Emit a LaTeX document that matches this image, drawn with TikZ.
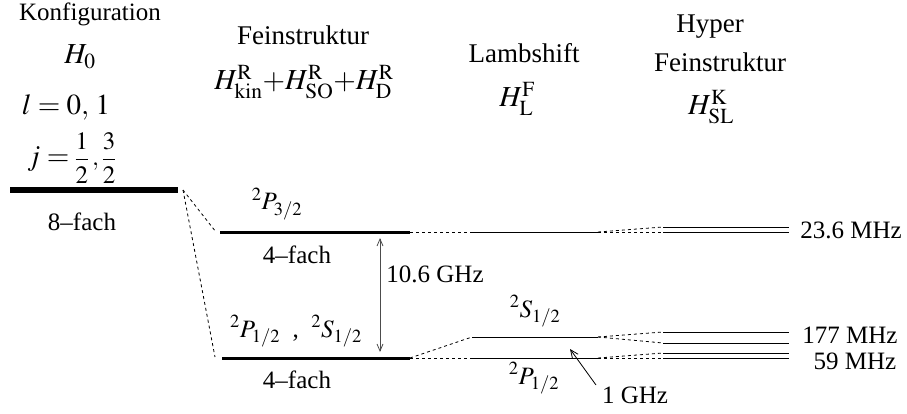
\documentclass[tikz,border=0pt]{standalone}
\usepackage{mathptmx}
\usepackage{fontspec}
\setmainfont{Liberation Serif}
\usetikzlibrary{arrows.meta,positioning}
\tikzset{txt/.style={inner sep=0pt,anchor=base,font=\fontsize{25}{30}\selectfont},
  head/.style={inner sep=0pt,anchor=base,font=\fontsize{27}{32}\selectfont},
  hmath/.style={inner sep=0pt,anchor=base,font=\fontsize{29}{34}\selectfont},
  lvlthick/.style={line width=3pt},
  lvlthin/.style={line width=1pt},
  split/.style={dash pattern=on 3pt off 3pt,line width=0.8pt},
  gap/.style={{Straight Barb[length=7pt,width=6pt]}-{Straight Barb[length=7pt,width=6pt]},draw=black!70,line width=0.8pt},
  pointer/.style={-{Straight Barb[length=8pt,width=7pt]},line width=0.8pt}}

\begin{document}
\begin{tikzpicture}[x=1pt,y=-1pt]
\useasboundingbox (0,0) rectangle (907,414);
% Konfiguration
\node[txt] (konf) at (90,21) {Konfiguration};
\node[hmath] (hnull) at (80,64) {$H_0$};
\node[hmath] (lval) at (66,115) {$l=0,\,1$};
\node[hmath] (jval) at (72,166) {$j=$\,{\fontsize{25}{30}\selectfont$\displaystyle\frac{1}{2}\,,\frac{3}{2}$}};
\coordinate (konfL) at (10,190);
\coordinate (konfR) at (178,190);
\draw[line width=6pt] (konfL)--(konfR);
\node[txt] (konfdeg) at (82,230) {8--fach};
% Feinstruktur
\node[head] (fein) at (303,45) {Feinstruktur};
\node[hmath] (hfein) at (304,90) {$H^{\mathrm{R}}_{\mathrm{kin}}{+}H^{\mathrm{R}}_{\mathrm{SO}}{+}H^{\mathrm{R}}_{\mathrm{D}}$};
\coordinate (pdreiL) at (220,232);
\coordinate (pdreiR) at (410,232);
\coordinate (peinsL) at (222,358);
\coordinate (peinsR) at (410,358);
\draw[lvlthick] (pdreiL)--(pdreiR);
\draw[lvlthick] (peinsL)--(peinsR);
\node[txt] (pdreilab) at (277,210) {${}^2P_{3/2}$};
\node[txt] (pdreideg) at (297,263) {4--fach};
\node[txt] (peinslab) at (296,337) {${}^2P_{1/2}$\ \ ,\ \ ${}^2S_{1/2}$};
\node[txt] (peinsdeg) at (297,388) {4--fach};
\draw[split] (183,190) coordinate (konfS) -- (216,232);
\draw[split] (konfS)--(215,357);
\coordinate (gapT) at (380,238);
\coordinate (gapB) at (380,352);
\draw[gap] (gapT)--(gapB);
\node[txt] (gaplab) at (435,282) {10.6 GHz};
% Lambshift
\node[head] (lamb) at (524,63) {Lambshift};
\node[hmath] (hlamb) at (517,107) {$H^{\mathrm{F}}_{\mathrm{L}}$};
\coordinate (ldreiL) at (472,232);
\coordinate (ldreiR) at (598,232);
\coordinate (lsL) at (472,337);
\coordinate (lsR) at (598,337);
\coordinate (lpL) at (472,358);
\coordinate (lpR) at (598,358);
\draw[lvlthin] (ldreiL)--(ldreiR);
\draw[lvlthin] (lsL)--(lsR);
\draw[lvlthin] (lpL)--(lpR);
\draw[split] (pdreiR)--(ldreiL);
\draw[split] (peinsR)--(lsL);
\draw[split] (peinsR)--(lpL);
\node[txt] (lslab) at (535,317) {${}^2S_{1/2}$};
\node[txt] (lplab) at (534,384) {${}^2P_{1/2}$};
\node[txt] (ghz) at (635,403) {1 GHz};
\coordinate (ghzT) at (596,385);
\coordinate (ghzH) at (570,349);
\draw[pointer] (ghzT)--(ghzH);
% Hyper-Feinstruktur
\node[head] (hyp) at (710,33) {Hyper};
\node[head] (hypfein) at (720,72) {Feinstruktur};
\node[hmath] (hhyp) at (711,115) {$H^{\mathrm{K}}_{\mathrm{SL}}$};
\foreach \y/\src in {227/ldreiR,232/ldreiR,332/lsR,343/lsR,353/lpR,358/lpR}{
  \coordinate (hf\y L) at (663,\y);
  \coordinate (hf\y R) at (789,\y);
  \draw[lvlthin] (hf\y L)--(hf\y R);
  \draw[split] (\src)--(hf\y L);
}
\node[txt] (mhza) at (851,238) {23.6 MHz};
\node[txt] (mhzb) at (850,343) {177 MHz};
\node[txt] (mhzc) at (855,369) {59 MHz};
\end{tikzpicture}
\end{document}
